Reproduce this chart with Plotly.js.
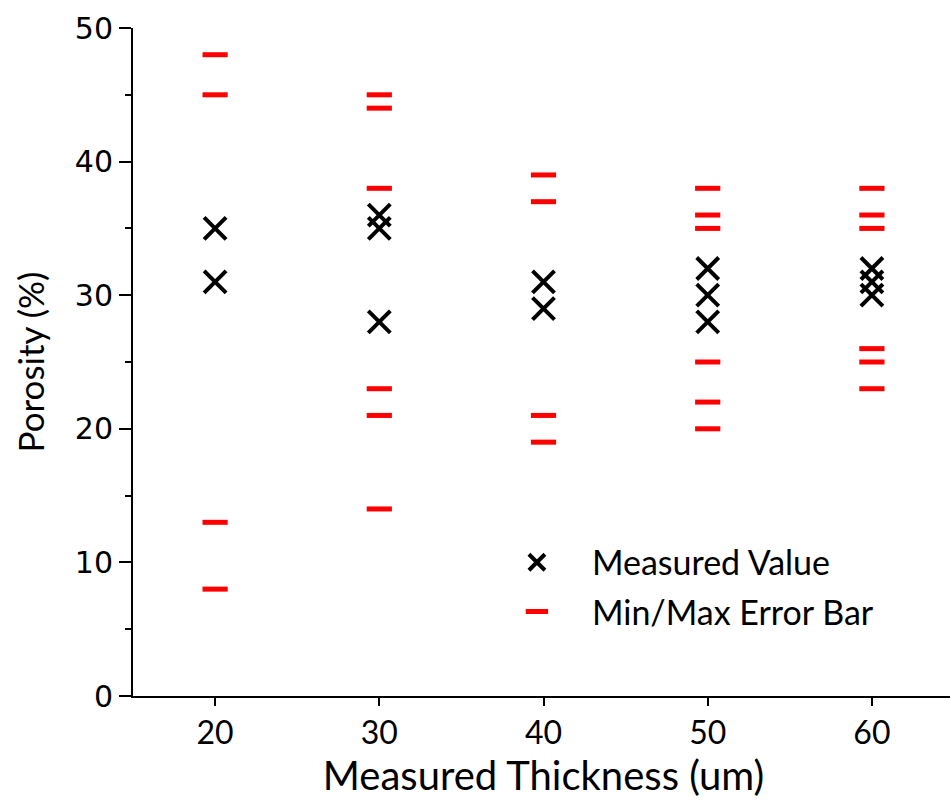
<!DOCTYPE html>
<html>
<head>
<meta charset="utf-8">
<script src="https://cdn.plot.ly/plotly-3.0.1.min.js"></script>
<style>
html,body{margin:0;padding:0;overflow:hidden;background:#fff;}
#chart{width:956px;height:803px;}
</style>
</head>
<body>
<div id="chart"></div>
<script>
// Data
var thickness = [20, 20, 30, 30, 30, 40, 40, 50, 50, 50, 60, 60, 60];
var porosity  = [35, 31, 36, 35, 28, 31, 29, 32, 30, 28, 32, 31, 30];
var errMax    = [48, 45, 45, 44, 38, 39, 37, 38, 36, 35, 38, 36, 35];
var errMin    = [13, 8, 23, 21, 14, 21, 19, 25, 22, 20, 26, 25, 23];
var xTicks = [20, 30, 40, 50, 60];
var yTicks = [0, 10, 20, 30, 40, 50];

var errX = thickness.concat(thickness);
var errY = errMax.concat(errMin);

var traces = [
  {
    x: thickness, y: porosity, type: 'scatter', mode: 'markers',
    name: 'Measured Value', legendgroup: 'a',
    marker: {symbol: 'x-thin-open', size: 22, color: '#000', line: {color: '#000', width: 4}}
  },
  {
    x: errX, y: errY, type: 'scatter', mode: 'markers',
    name: 'Min/Max Error Bar', legendgroup: 'b',
    marker: {symbol: 'line-ew-open', size: 18, color: '#ff0000', line: {color: '#ff0000', width: 5}}
  }
];

var layout = {
  width: 956, height: 803,
  margin: {l: 133, r: 2, t: 28, b: 107},
  paper_bgcolor: '#fff', plot_bgcolor: '#fff',
  showlegend: true,
  legend: {
    x: 0.425, xanchor: 'left', y: 0.163, yanchor: 'middle',
    bgcolor: 'rgba(0,0,0,0)', itemwidth: 100, tracegroupgap: 2,
    font: {family: 'Lato, sans-serif', size: 34, color: '#000'}
  },
  xaxis: {
    range: [15, 65], tickvals: xTicks, ticktext: xTicks.map(String),
    ticks: 'outside', ticklen: 8, tickwidth: 2, tickcolor: '#000',
    showline: true, linewidth: 2, linecolor: '#000', mirror: false,
    showgrid: false, zeroline: false,
    tickfont: {family: 'Lato, sans-serif', size: 32, color: '#000'},
    title: {text: 'Measured Thickness (um)', font: {family: 'Lato, sans-serif', size: 40, color: '#000'}, standoff: 12}
  },
  xaxis2: {
    overlaying: 'x', side: 'top', anchor: 'y', range: [15, 65], tickvals: xTicks,
    ticks: 'inside', ticklen: 7, tickwidth: 2, tickcolor: '#000',
    showticklabels: false, showline: true, linewidth: 2, linecolor: '#000',
    showgrid: false, zeroline: false
  },
  yaxis: {
    range: [0, 50], tickvals: yTicks, ticktext: yTicks.map(String),
    ticks: 'outside', ticklen: 12, tickwidth: 2, tickcolor: '#000',
    minor: {dtick: 5, tick0: 0, ticks: 'outside', ticklen: 6, tickwidth: 2, tickcolor: '#000', showgrid: false},
    showline: true, linewidth: 2, linecolor: '#000',
    showgrid: false, zeroline: false,
    tickfont: {family: 'DejaVu Sans, sans-serif', size: 30, color: '#000'},
    title: {text: 'Porosity (%)', font: {family: 'Lato, sans-serif', size: 35, color: '#000'}, standoff: 20}
  },
  yaxis2: {
    overlaying: 'y', side: 'right', anchor: 'x', range: [0, 50], tickvals: yTicks,
    ticks: 'inside', ticklen: 10, tickwidth: 2, tickcolor: '#000',
    minor: {dtick: 5, tick0: 0, ticks: 'inside', ticklen: 5, tickwidth: 2, tickcolor: '#000', showgrid: false},
    showticklabels: false, showline: true, linewidth: 2, linecolor: '#000',
    showgrid: false, zeroline: false
  }
};

Plotly.newPlot('chart', traces, layout, {displayModeBar: false, staticPlot: true});
</script>
</body>
</html>
